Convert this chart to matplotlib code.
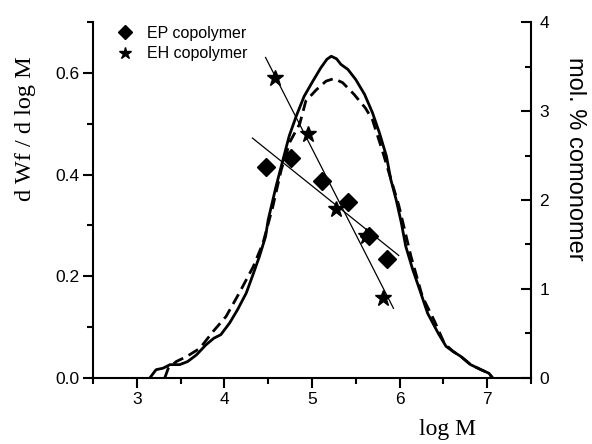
import numpy as np
import matplotlib.pyplot as plt

# ── Data ────────────────────────────────────────────────────────────────────
# MWD curves (left axis)
solid_logm = [3.15, 3.22, 3.30, 3.38, 3.49, 3.58, 3.68, 3.79, 3.88, 3.96, 4.06,
              4.15, 4.25, 4.32, 4.40, 4.47, 4.50, 4.59, 4.67, 4.74, 4.82, 4.91,
              5.01, 5.10, 5.17, 5.22, 5.28, 5.33, 5.41, 5.50, 5.60, 5.69, 5.77,
              5.85, 5.90, 5.96, 6.02, 6.07, 6.15, 6.23, 6.32, 6.44, 6.53, 6.61,
              6.70, 6.81, 6.93, 7.02, 7.06]
solid_wf = [0.000, 0.016, 0.019, 0.026, 0.026, 0.032, 0.045, 0.065, 0.078, 0.085,
            0.108, 0.134, 0.167, 0.200, 0.239, 0.278, 0.311, 0.377, 0.430, 0.476,
            0.515, 0.554, 0.584, 0.610, 0.627, 0.633, 0.628, 0.617, 0.607, 0.587,
            0.558, 0.522, 0.482, 0.436, 0.390, 0.351, 0.305, 0.259, 0.213, 0.173,
            0.127, 0.088, 0.062, 0.052, 0.042, 0.026, 0.016, 0.009, 0.000]

dash_logm = [3.32, 3.36, 3.45, 3.57, 3.72, 3.87, 4.02, 4.17, 4.33, 4.44, 4.55,
             4.65, 4.75, 4.86, 4.93, 5.05, 5.16, 5.25, 5.35, 5.48, 5.61, 5.69,
             5.80, 5.88, 5.99, 6.13, 6.26, 6.40, 6.51, 6.61, 6.70, 6.81, 6.93,
             7.02, 7.06]
dash_wf = [0.000, 0.019, 0.032, 0.042, 0.058, 0.091, 0.121, 0.167, 0.219, 0.265,
           0.335, 0.410, 0.465, 0.500, 0.545, 0.567, 0.584, 0.589, 0.581, 0.558,
           0.531, 0.508, 0.449, 0.403, 0.340, 0.239, 0.160, 0.111, 0.068, 0.052,
           0.042, 0.026, 0.016, 0.009, 0.000]

# comonomer content (right axis)
ep_logm = [4.47, 4.76, 5.11, 5.41, 5.65, 5.86]
ep_mol = [2.37, 2.47, 2.21, 1.98, 1.59, 1.34]
eh_logm = [4.58, 4.96, 5.27, 5.62, 5.81]
eh_mol = [3.37, 2.74, 1.90, 1.59, 0.90]

# x-range over which each regression line is drawn
ep_fit_range = [4.32, 5.99]
eh_fit_range = [4.47, 5.93]

# ── Plot ─────────────────────────────────────────────────────────────────────
plt.rcParams["font.family"] = "Liberation Sans"

fig = plt.figure(figsize=(5.92, 4.44), dpi=100)
ax = fig.add_axes([0.157, 0.149, 0.740, 0.801])
ax2 = ax.twinx()

ax.plot(solid_logm, solid_wf, color="black", lw=2.0)
ax.plot(dash_logm, dash_wf, color="black", lw=2.0, dashes=(4, 2.2))

ep_fit = np.polyfit(ep_logm, ep_mol, 1)
eh_fit = np.polyfit(eh_logm, eh_mol, 1)
ax2.plot(ep_fit_range, np.polyval(ep_fit, ep_fit_range), color="black", lw=0.9)
ax2.plot(eh_fit_range, np.polyval(eh_fit, eh_fit_range), color="black", lw=0.9)
ep_h, = ax2.plot(ep_logm, ep_mol, "D", color="black", ms=9, ls="none",
                 label="EP copolymer")
eh_h, = ax2.plot(eh_logm, eh_mol, "*", color="black", ms=12, ls="none",
                 label="EH copolymer")

ax.set_xlim(2.5, 7.5)
ax.set_ylim(0, 0.7)
ax2.set_ylim(0, 4)

ax.set_xticks([3, 4, 5, 6, 7])
ax.set_xticks(np.arange(2.5, 7.6, 0.5), minor=True)
ax.set_yticks([0.0, 0.2, 0.4, 0.6])
ax.set_yticklabels(["0.0", "0.2", "0.4", "0.6"])
ax.set_yticks(np.arange(0, 0.71, 0.1), minor=True)
ax2.set_yticks([0, 1, 2, 3, 4])
ax2.set_yticks(np.arange(0, 4.1, 0.5), minor=True)

for a in (ax, ax2):
    a.spines["top"].set_visible(False)
    for s in a.spines.values():
        s.set_linewidth(1.5)
ax.spines["right"].set_visible(False)
ax2.spines["left"].set_visible(False)
ax2.spines["bottom"].set_visible(False)

ax.tick_params(which="major", direction="out", length=7, width=1.5,
               labelsize=12.5, pad=3)
ax.tick_params(which="minor", direction="out", length=4, width=1.5)
ax2.tick_params(which="major", direction="in", length=7, width=1.5,
                labelsize=12.5, pad=6)
ax2.tick_params(which="minor", direction="in", length=4, width=1.5)

ax.set_ylabel("d Wf / d log M", family="Liberation Serif", fontsize=17.5)
ax.yaxis.set_label_coords(-0.13, 0.70)
ax2.set_ylabel("mol. % comonomer", fontsize=17, rotation=270)
ax2.yaxis.set_label_coords(1.125, 0.615)
ax.set_xlabel("log M", family="Liberation Serif", fontsize=17)
ax.xaxis.set_label_coords(0.81, -0.115)

ax2.legend(handles=[ep_h, eh_h], loc="upper left",
           bbox_to_anchor=(0.058, 0.99), borderaxespad=0, borderpad=0,
           frameon=False, fontsize=11.5, handlelength=0.8, handletextpad=1.0,
           labelspacing=0.35, markerscale=0.75, numpoints=1)

plt.savefig("out.png", dpi=100)
